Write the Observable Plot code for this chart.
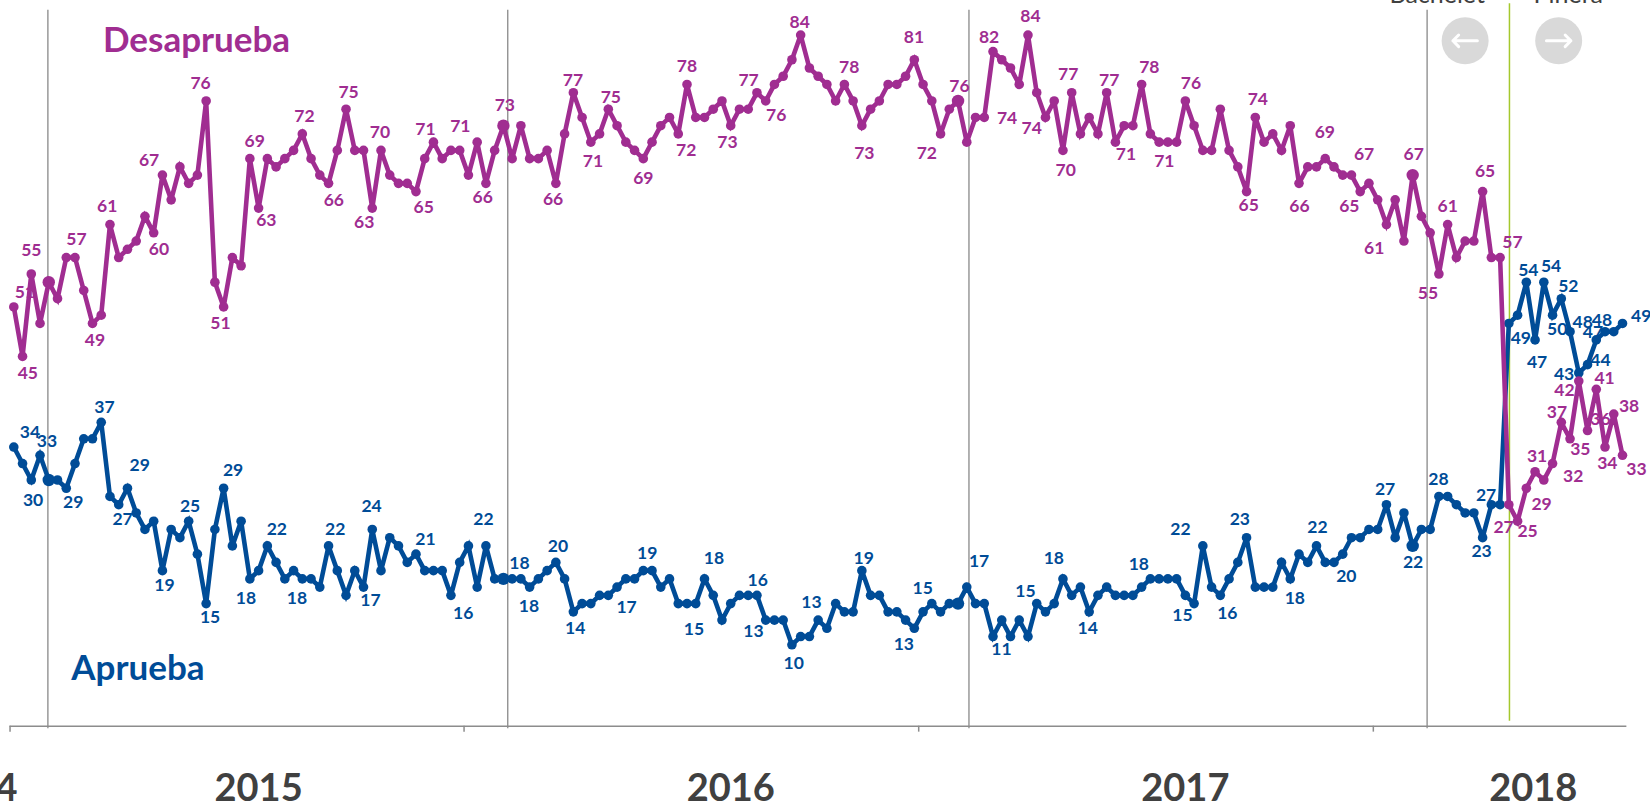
<!DOCTYPE html>
<html>
<head>
<meta charset="utf-8">
<script src="https://cdn.jsdelivr.net/npm/d3@7"></script>
<script src="https://cdn.jsdelivr.net/npm/@observablehq/plot@0.6"></script>
<style>
html,body{margin:0;padding:0;background:#fff;overflow:hidden}
svg{display:block}
</style>
</head>
<body>
<div id="chart"></div>
<script>
const desaprueba = [51,45,55,49,54,52,57,57,53,49,50,61,57,58,59,62,60,67,64,68,66,67,76,54,51,57,56,69,63,69,68,69,70,72,69,67,66,70,75,70,70,63,70,67,66,66,65,69,71,69,70,70,67,71,66,70,73,69,73,69,69,70,66,72,77,74,71,72,75,73,71,70,69,71,73,74,72,78,74,74,75,76,73,75,75,77,76,78,79,81,84,80,79,78,76,78,76,73,75,76,78,78,79,81,78,76,72,75,76,71,74,74,82,81,80,78,84,77,74,76,70,77,72,74,72,77,71,73,73,78,72,71,71,71,76,73,70,70,75,70,68,65,74,71,72,70,73,66,68,68,69,68,67,67,65,66,64,61,64,59,67,62,60,55,61,57,59,59,65,57,57,27,25,29,31,30,32,37,35,42,36,41,34,38,33];
const aprueba = [34,32,30,33,30,30,29,32,35,35,37,28,27,29,26,24,25,19,24,23,25,21,15,24,29,22,25,18,19,22,20,18,19,18,18,17,22,19,16,19,17,24,19,23,22,20,21,19,19,19,16,20,22,17,22,18,18,18,18,17,18,19,20,18,14,15,15,16,16,17,18,18,19,19,17,18,15,15,15,18,16,13,15,16,16,16,13,13,13,10,11,11,13,12,15,14,14,19,16,16,14,14,13,12,14,15,14,15,15,17,15,15,11,13,11,13,11,15,14,15,18,16,17,14,16,17,16,16,16,17,18,18,18,18,16,15,22,17,16,18,20,23,17,17,17,20,18,21,20,22,20,20,21,23,23,24,24,27,23,26,22,24,24,28,28,27,26,26,23,27,27,49,50,54,47,54,50,52,48,43,44,47,48,48,49];
const surveyChangeIndex = [4,56,108,160];

// Labelled points: [point index, text]
const desapruebaLabels = [[0,"51"],[1,"45"],[2,"55"],[7,"57"],[9,"49"],[11,"61"],[16,"60"],[17,"67"],[22,"76"],[24,"51"],[27,"69"],[28,"63"],[33,"72"],[36,"66"],[38,"75"],[41,"63"],[42,"70"],[46,"65"],[48,"71"],[53,"71"],[54,"66"],[56,"73"],[62,"66"],[64,"77"],[66,"71"],[68,"75"],[72,"69"],[76,"72"],[77,"78"],[82,"73"],[85,"77"],[86,"76"],[90,"84"],[95,"78"],[97,"73"],[103,"81"],[106,"72"],[108,"76"],[111,"74"],[112,"82"],[116,"84"],[118,"74"],[120,"70"],[121,"77"],[125,"77"],[126,"71"],[129,"78"],[132,"71"],[134,"76"],[141,"65"],[142,"74"],[147,"66"],[150,"69"],[153,"67"],[154,"65"],[157,"61"],[160,"67"],[163,"55"],[164,"61"],[168,"65"],[170,"57"],[171,"27"],[172,"25"],[173,"29"],[174,"31"],[176,"32"],[177,"37"],[178,"35"],[179,"42"],[180,"36"],[181,"41"],[182,"34"],[183,"38"],[184,"33"]];
const apruebaLabels = [[1,"34"],[2,"30"],[3,"33"],[6,"29"],[10,"37"],[12,"27"],[13,"29"],[17,"19"],[20,"25"],[22,"15"],[24,"29"],[27,"18"],[29,"22"],[33,"18"],[36,"22"],[40,"17"],[41,"24"],[46,"21"],[50,"16"],[54,"22"],[58,"18"],[59,"18"],[62,"20"],[64,"14"],[69,"17"],[72,"19"],[78,"15"],[79,"18"],[85,"16"],[86,"13"],[89,"10"],[92,"13"],[97,"19"],[103,"13"],[105,"15"],[109,"17"],[112,"11"],[117,"15"],[120,"18"],[123,"14"],[130,"18"],[135,"15"],[136,"22"],[138,"16"],[141,"23"],[146,"18"],[149,"22"],[151,"20"],[157,"27"],[160,"22"],[163,"28"],[168,"23"],[169,"27"],[171,"49"],[173,"54"],[174,"47"],[175,"54"],[176,"50"],[177,"52"],[178,"48"],[179,"43"],[180,"44"],[181,"47"],[182,"48"],[184,"49"]];

const yearNames = ["2014","2015","2016","2017","2018"];
const yearCenters = [-4.6,28,82,134,173.8];
const yearTicks = [-0.43,51.5,103.5,155.5];
const yearDividers = [3.9,56.5,109.25,161.65];
const governmentChange = 171.07;

// Label nudges, in pixels, in the same order as the label lists
const desapruebaNudge = [[11,-15],[5.3,16.7],[0,-23.3],[1.4,-17.7],[2.5,17.3],[-2.8,-18],[5.3,16.7],[-13.3,-14.7],[-5.6,-17.7],[-3.2,16.7],[4.9,-17],[7.7,12.3],[2.1,-17.7],[5.3,17.3],[2.5,-16.7],[-8,14],[-1,-18],[7.7,15.7],[-8,-13],[-16.8,-15.7],[-3.2,14],[1.4,-20.3],[-2.8,16],[-0.4,-12.3],[2.1,19.3],[2.5,-11.7],[0,19.7],[8,16.7],[0,-17.7],[-3.2,16.7],[-8.4,-12.3],[10.5,14.7],[-1,-13],[4.9,-17.3],[2.5,27.7],[-0.4,-22.7],[-13.7,19.3],[1.4,-14.3],[22.8,1],[-3.9,-14.3],[2.5,-18.3],[-13.7,11],[2.8,19.7],[-3.5,-18.3],[2.5,-12.3],[10.5,12.3],[7.7,-17.3],[-3.5,19.3],[5.6,-18],[2.1,14],[2.5,-18.3],[0.4,23.3],[-0.4,-26.3],[12.6,-21],[-10.9,15],[-12.3,24.3],[1,-20.7],[-10.9,19.7],[0,-18.3],[2.5,-20],[12.3,-15],[-5.3,22.7],[10,10.3],[15.3,16],[2,-15.7],[20.7,13],[-4.3,-10],[10.3,11],[-14.3,9],[13,-10.7],[8.3,-11],[2.3,16],[15.3,-7.7],[14,14]];
const apruebaNudge = [[7.4,-30.7],[1.8,20],[7,-14.3],[7,13.7],[3.2,-15],[3.9,14.3],[12.3,-23.3],[2.1,14.3],[1.4,-14.7],[3.9,14],[9.5,-18.3],[-3.9,19.3],[9.5,-16.3],[-5.3,19.3],[6.7,-16.3],[7,13.7],[-0.7,-23],[9.5,-15],[12.3,18.3],[-2.5,-26.3],[-1.4,-15],[-0.7,19],[2.1,-15.7],[1.8,16.7],[9.5,20],[3.9,-17.3],[-1.8,25.7],[9.5,-20.7],[0.7,-15],[-12.3,11],[1.8,18.3],[-6.7,-18],[1.8,-12.3],[-10.5,16],[-9.1,-15],[12.3,-26],[8.4,13.3],[-11.2,-12],[-9.1,-20.7],[-1.4,16.7],[-11.6,-14.7],[-11.6,12],[-22.4,-16.3],[7,18.3],[-6.7,-18.7],[4.6,19.3],[1,-18.3],[12.3,13.7],[-1.4,-15.7],[0.4,16],[-0.4,-17.3],[-1,13.7],[-5.3,-9.7],[12,14.7],[2,-12.3],[2,22.3],[7.3,-15.7],[4.7,14.3],[7,-12.7],[12.7,-9.7],[-14.7,1.3],[13,-4.3],[-3.3,-7.7],[-3,-11.7],[18.7,-6.7]];

const purple = "#a02d91", blue = "#004c97", gray = "#7f7f7f", lime = "#a5c82d", dark = "#404040";
const pxPerIndex = (1622 - 13.3) / 184, pxPerUnit = 8.24;
const font = "Lato, sans-serif";

const toRows = arr => arr.map((v, i) => ({i, v}));
const dRows = toRows(desaprueba), aRows = toRows(aprueba);
const labelRows = (labels, nudge, values) => labels.map(([i, t], k) => ({
  x: i + nudge[k][0] / pxPerIndex,
  y: values[i] - nudge[k][1] / pxPerUnit,
  t
}));

const chart = Plot.plot({
  width: 1650, height: 804,
  marginTop: 0, marginRight: 0, marginBottom: 0, marginLeft: 0,
  style: {background: "#fff", fontFamily: font},
  x: {axis: null, domain: [0, 184], range: [13.3, 1622]},
  y: {axis: null, domain: [0, 90], range: [726.7, 726.7 - 90 * pxPerUnit]},
  marks: [
    Plot.ruleX(yearDividers, {x: d => d, y1: -0.2, y2: 87, stroke: gray, strokeWidth: 1.2}),
    Plot.ruleY([0.12], {x1: -0.43, x2: 184.5, stroke: "#8c8c8c", strokeWidth: 1.5}),
    Plot.ruleX(yearTicks, {x: d => d, y1: 0.12, y2: -0.6, stroke: "#8c8c8c", strokeWidth: 1.5}),
    Plot.ruleX([governmentChange], {x: d => d, y1: 0.73, y2: 87.8, stroke: lime, strokeWidth: 1.5}),
    Plot.text(labelRows(desapruebaLabels, desapruebaNudge, desaprueba), {x: "x", y: "y", text: "t", fill: purple, fontSize: 17.5, fontWeight: 700}),
    Plot.text(labelRows(apruebaLabels, apruebaNudge, aprueba), {x: "x", y: "y", text: "t", fill: blue, fontSize: 17.5, fontWeight: 700}),
    Plot.line(aRows, {x: "i", y: "v", stroke: blue, strokeWidth: 4.6, strokeLinejoin: "miter", strokeMiterlimit: 3}),
    Plot.dot(aRows, {x: "i", y: "v", r: 4.8, fill: blue}),
    Plot.dot(aRows.filter(d => surveyChangeIndex.includes(d.i)), {x: "i", y: "v", r: 6.2, fill: blue}),
    Plot.line(dRows, {x: "i", y: "v", stroke: purple, strokeWidth: 4.6, strokeLinejoin: "miter", strokeMiterlimit: 3}),
    Plot.dot(dRows, {x: "i", y: "v", r: 4.8, fill: purple}),
    Plot.dot(dRows.filter(d => surveyChangeIndex.includes(d.i)), {x: "i", y: "v", r: 6.2, fill: purple}),
    Plot.text(["Desaprueba"], {x: 20.9, y: 83.3, text: d => d, fill: purple, fontSize: 35, fontWeight: 700}),
    Plot.text(["Aprueba"], {x: 14.2, y: 7.1, text: d => d, fill: blue, fontSize: 35, fontWeight: 700}),
    Plot.text(yearNames, {x: (d, i) => yearCenters[i], y: -7.5, text: d => d, fill: dark, fontSize: 38, fontWeight: 700}),
    Plot.text(["Bachelet", "Piñera"], {x: (d, i) => [162.8, 177.8][i], y: 88.8, text: d => d, fill: dark, fontSize: 25}),
    Plot.dot([166, 176.7], {x: d => d, y: 83.3, r: 23.5, fill: "#d9d9d9"}),
    Plot.arrow([{a: 167.4, b: 164.6}, {a: 175.3, b: 178.1}], {x1: "a", x2: "b", y1: 83.3, y2: 83.3, stroke: "#fff", strokeWidth: 3, bend: 0, headLength: 16, headAngle: 90})
  ]
});
document.getElementById("chart").append(chart);
</script>
</body>
</html>
